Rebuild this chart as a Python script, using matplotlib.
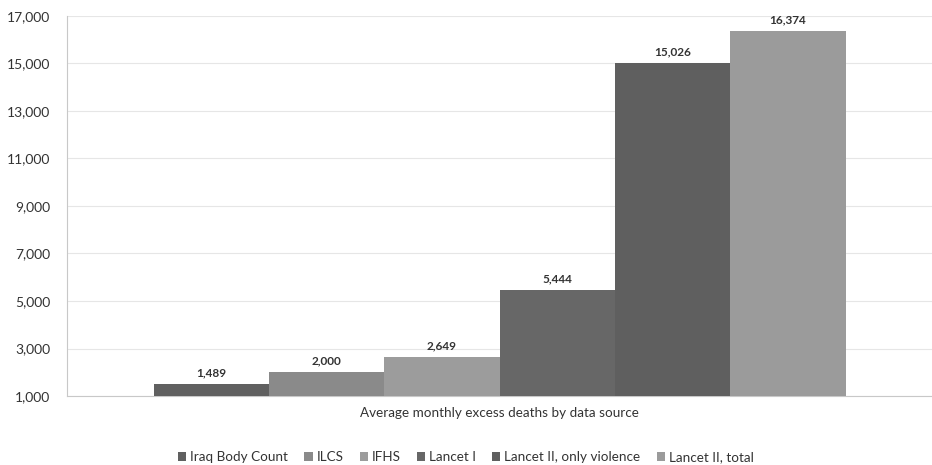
import matplotlib
matplotlib.use("Agg")
import matplotlib.pyplot as plt
import numpy as np

sources = ["Iraq Body Count", "ILCS", "IFHS", "Lancet I", "Lancet II, only violence", "Lancet II, total"]
values = [1489, 2000, 2649, 5444, 15026, 16374]
colors = ["#606060", "#8a8a8a", "#9c9c9c", "#676767", "#5f5f5f", "#9b9b9b"]
category = "Average monthly excess deaths by data source"
yticks = [1000, 3000, 5000, 7000, 9000, 11000, 13000, 15000, 17000]

plt.rcParams['font.family'] = ['Lato', 'DejaVu Sans']

fig = plt.figure(figsize=(9.32, 4.65), dpi=100)
ax = fig.add_axes([67/932, 1-396/465, (932-67)/932, (396-16)/465])

n = len(values)
width = 0.8 / n
offsets = (np.arange(n) - (n - 1) / 2) * width
for i, (s, v, c) in enumerate(zip(sources, values, colors)):
    ax.bar(offsets[i], v, width=width, color=c, label=s, zorder=3)
    ax.text(offsets[i], v + 250, f"{v:,}", ha="center", va="bottom",
            fontsize=8.5, fontweight="bold", color="#333333", zorder=4)

ax.set_xlim(-0.5, 0.5)
ax.set_ylim(1000, 17000)
ax.set_yticks(yticks)
ax.set_yticklabels([f"{t:,}" for t in yticks], fontsize=10, color="#333333")
ax.set_xticks([0])
ax.set_xticklabels([category], fontsize=9.7, color="#333333")
ax.tick_params(axis="y", length=0, pad=12)
ax.tick_params(axis="x", length=0, pad=8)
ax.grid(axis="y", color="#e6e6e6", linewidth=0.8, zorder=0)
for sp in ["top", "right"]:
    ax.spines[sp].set_visible(False)
ax.spines["left"].set_color("#c8c8c8")
ax.spines["bottom"].set_color("#c8c8c8")

fig.legend(loc="center", bbox_to_anchor=(0.5, 1 - 457/465), ncol=6, frameon=False,
           fontsize=9.7, handlelength=0.6, handleheight=0.6, handletextpad=0.3,
           columnspacing=1.2, labelcolor="#333333")

fig.savefig("out.png", dpi=100)
